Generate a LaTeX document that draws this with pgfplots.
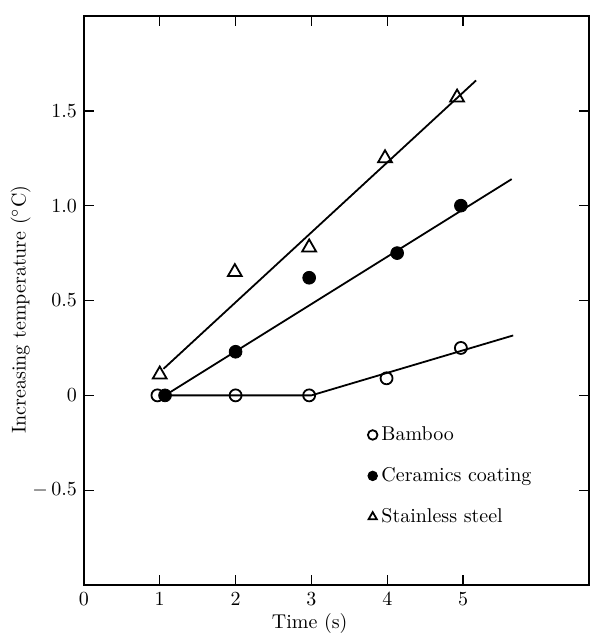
\documentclass[border=0pt]{standalone}
\usepackage{pgfplots}
\pgfplotsset{compat=1.18}

\begin{document}
\begin{tikzpicture}
\begin{axis}[
  scale only axis,
  width=253pt,
  height=285pt,
  xmin=0, xmax=6.66,
  ymin=-1, ymax=2,
  axis line style={line width=0.9pt},
  tick style={line width=0.7pt, black},
  tick align=inside,
  major tick length=5pt,
  xtick={0,1,2,3,4,5},
  ytick={-0.5,0,0.5,1.0,1.5},
  yticklabels={$-\,0.5$,0,0.5,1.0,1.5},
  xtick pos=both, ytick pos=both,
  xlabel={Time (s)},
  ylabel={Increasing temperature ($^\circ$C)},
  xlabel style={at={(ticklabel cs:0.447)}, yshift=2.5pt},
  ylabel style={at={(ticklabel cs:0.484)}, yshift=-6pt},
  legend style={at={(axis cs:3.66,-0.12)}, anchor=north west, draw=none,
    fill=none, row sep=8pt, cells={anchor=west}},
  legend image code/.code={\draw[#1, mark size=2.4pt] plot coordinates {(0cm,0cm)};},
]
% fitted lines
\addplot[black, line width=0.9pt, forget plot] coordinates {(1,0) (3,0) (5.66,0.316)};
\addplot[black, line width=0.9pt, forget plot] coordinates {(1.07,0) (5.64,1.14)};
\addplot[black, line width=0.9pt, forget plot] coordinates {(1.05,0.14) (5.17,1.66)};
% measured points
\addplot[only marks, mark=o, mark size=3pt, mark options={fill=white, draw=black, line width=0.9pt}]
  coordinates {(0.97,0) (2,0) (2.97,0) (3.99,0.09) (4.97,0.25)};
\addlegendentry{Bamboo}
\addplot[only marks, mark=*, mark size=3.2pt, mark options={fill=black, draw=black}]
  coordinates {(1.07,0) (2,0.23) (2.97,0.62) (4.13,0.75) (4.97,1.0)};
\addlegendentry{Ceramics coating}
\addplot[only marks, mark=triangle, mark size=4pt, mark options={fill=white, draw=black, line width=0.9pt}]
  coordinates {(1,0.11) (1.99,0.65) (2.97,0.78) (3.97,1.25) (4.92,1.57)};
\addlegendentry{Stainless steel}
\end{axis}
\pgfresetboundingbox
\path[use as bounding box] ([shift={(-42pt,-25pt)}]current axis.south west)
  rectangle ([shift={(0.5pt,8pt)}]current axis.north east);
\end{tikzpicture}
\end{document}
